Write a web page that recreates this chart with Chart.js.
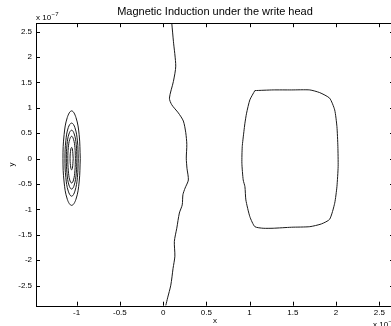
<!DOCTYPE html>
<html>
<head>
<meta charset="utf-8">
<script src="https://cdn.jsdelivr.net/npm/chart.js@4"></script>
<style>
  html, body { margin: 0; padding: 0; background: #fff; overflow: hidden; }
</style>
</head>
<body>
<canvas id="myChart" width="396" height="326"></canvas>
<script>
// values in units of 1e-7
var xTicks = [-1, -0.5, 0, 0.5, 1, 1.5, 2, 2.5];
var yTicks = [-2.5, -2, -1.5, -1, -0.5, 0, 0.5, 1, 1.5, 2, 2.5];

var middleLine = [
    [0.100, 2.67], [0.119, 2.31], [0.146, 1.82], [0.119, 1.52], [0.073, 1.19],
    [0.100, 1.06], [0.176, 0.90], [0.234, 0.74], [0.262, 0.51], [0.274, 0.28],
    [0.268, 0.01], [0.276, -0.19], [0.292, -0.42], [0.254, -0.58], [0.229, -0.71],
    [0.221, -0.91], [0.188, -1.07], [0.158, -1.37], [0.130, -1.63], [0.136, -1.92],
    [0.115, -2.16], [0.089, -2.49], [0.052, -2.74], [0.031, -2.89]
];

var rightLoop = [
    [1.061, 1.339], [1.272, 1.352], [1.484, 1.352], [1.696, 1.352], [1.811, 1.299],
    [1.926, 1.189], [1.984, 0.959], [2.010, 0.630], [2.021, 0.236], [2.024, -0.157],
    [2.010, -0.551], [1.984, -0.878], [1.926, -1.193], [1.830, -1.285], [1.696, -1.339],
    [1.484, -1.350], [1.272, -1.370], [1.157, -1.370], [1.061, -1.339], [1.003, -1.142],
    [0.957, -0.813], [0.946, -0.551], [0.926, -0.419], [0.911, -0.091], [0.915, 0.236],
    [0.934, 0.531], [0.946, 0.697], [0.965, 0.894], [1.003, 1.156], [1.061, 1.339]
];

var ring1 = [
    [-0.958, 0], [-0.971, 0.47], [-1.008, 0.81], [-1.058, 0.94], [-1.108, 0.81],
    [-1.145, 0.47], [-1.158, 0], [-1.145, -0.46], [-1.108, -0.80], [-1.058, -0.92],
    [-1.008, -0.80], [-0.971, -0.46], [-0.958, 0]
];
var ring2 = [
    [-0.981, 0], [-0.991, 0.35], [-1.020, 0.61], [-1.058, 0.70], [-1.097, 0.61],
    [-1.125, 0.35], [-1.135, 0], [-1.125, -0.37], [-1.097, -0.64], [-1.058, -0.74],
    [-1.020, -0.64], [-0.991, -0.37], [-0.981, 0]
];
var ring3 = [
    [-0.997, 0], [-1.005, 0.28], [-1.028, 0.485], [-1.058, 0.56], [-1.089, 0.485],
    [-1.111, 0.28], [-1.119, 0], [-1.111, -0.30], [-1.089, -0.52], [-1.058, -0.60],
    [-1.028, -0.52], [-1.005, -0.30], [-0.997, 0]
];
var ring4 = [
    [-1.014, 0], [-1.020, 0.22], [-1.036, 0.38], [-1.058, 0.44], [-1.080, 0.38],
    [-1.096, 0.22], [-1.102, 0], [-1.096, -0.24], [-1.080, -0.42], [-1.058, -0.48],
    [-1.036, -0.42], [-1.020, -0.24], [-1.014, 0]
];
var ring5 = [
    [-1.040, 0], [-1.049, 0.19], [-1.058, 0.22], [-1.067, 0.19], [-1.076, 0],
    [-1.067, -0.19], [-1.058, -0.22], [-1.049, -0.19], [-1.040, 0]
];

var fontFamily = '"Liberation Sans", Arial, Helvetica, sans-serif';

function toPts(arr) {
    return arr.map(function (p) { return {x: p[0], y: p[1]}; });
}

function contour(arr, tension) {
    return {
        data: toPts(arr),
        showLine: true,
        borderColor: '#1a1a1a',
        borderWidth: 1,
        pointRadius: 0,
        tension: tension
    };
}

// matlab style box, inward ticks and the x 10^-7 exponents
var axesBox = {
    id: 'axesBox',
    afterDraw: function (chart) {
        var c = chart.ctx, a = chart.chartArea;
        var sx = chart.scales.x, sy = chart.scales.y;
        c.save();
        c.strokeStyle = '#000';
        c.lineWidth = 1;
        c.strokeRect(Math.round(a.left) + 0.5, Math.round(a.top) + 0.5,
            Math.round(a.right - a.left), Math.round(a.bottom - a.top));
        c.beginPath();
        xTicks.forEach(function (v) {
            var px = Math.round(sx.getPixelForValue(v)) + 0.5;
            c.moveTo(px, a.bottom); c.lineTo(px, a.bottom - 4);
            c.moveTo(px, a.top); c.lineTo(px, a.top + 4);
        });
        yTicks.forEach(function (v) {
            var py = Math.round(sy.getPixelForValue(v)) + 0.5;
            c.moveTo(a.left, py); c.lineTo(a.left + 4, py);
            c.moveTo(a.right, py); c.lineTo(a.right - 4, py);
        });
        c.stroke();

        c.fillStyle = '#000';
        c.textBaseline = 'alphabetic';
        c.font = '8px ' + fontFamily;
        c.fillText('x 10', 36, 20);
        var w = c.measureText('x 10').width;
        c.font = '6px ' + fontFamily;
        c.fillText('\u22127', 36 + w + 0.5, 16);

        c.font = '8px ' + fontFamily;
        c.fillText('x 10', 373, 327);
        w = c.measureText('x 10').width;
        c.font = '6px ' + fontFamily;
        c.fillText('\u22127', 373 + w + 0.5, 323);
        c.restore();
    }
};

var ctx = document.getElementById('myChart').getContext('2d');
var myChart = new Chart(ctx, {
    type: 'scatter',
    data: {
        datasets: [
            contour(middleLine, 0.25),
            contour(rightLoop, 0.2),
            contour(ring1, 0.4),
            contour(ring2, 0.4),
            contour(ring3, 0.4),
            contour(ring4, 0.4),
            contour(ring5, 0.4)
        ]
    },
    options: {
        responsive: false,
        animation: false,
        layout: {
            padding: {left: 0, right: 2, top: 0, bottom: 0}
        },
        plugins: {
            legend: {display: false},
            tooltip: {enabled: false},
            title: {
                display: true,
                text: 'Magnetic Induction under the write head',
                fullSize: false,
                color: '#000',
                font: {family: fontFamily, size: 11, weight: 'normal'},
                padding: {top: 5, bottom: 5}
            }
        },
        scales: {
            x: {
                type: 'linear',
                min: -1.47,
                max: 2.67,
                afterBuildTicks: function (s) {
                    s.ticks = xTicks.map(function (v) { return {value: v}; });
                },
                afterFit: function (s) { s.height = 20.3; },
                grid: {display: false, drawTicks: false},
                border: {display: false},
                ticks: {
                    color: '#000',
                    font: {family: fontFamily, size: 8},
                    padding: 2,
                    maxRotation: 0,
                    autoSkip: false,
                    callback: function (v) { return String(v); }
                },
                title: {
                    display: true,
                    text: 'x',
                    color: '#000',
                    font: {family: fontFamily, size: 8},
                    padding: {top: 0, bottom: 0}
                }
            },
            y: {
                type: 'linear',
                min: -2.894,
                max: 2.665,
                afterBuildTicks: function (s) {
                    s.ticks = yTicks.map(function (v) { return {value: v}; });
                },
                afterFit: function (s) { s.width = 36; },
                grid: {display: false, drawTicks: false},
                border: {display: false},
                ticks: {
                    color: '#000',
                    font: {family: fontFamily, size: 8},
                    padding: 4,
                    autoSkip: false,
                    callback: function (v) { return String(v); }
                },
                title: {
                    display: true,
                    text: 'y',
                    color: '#000',
                    font: {family: fontFamily, size: 8},
                    padding: {top: 7, bottom: 0}
                }
            }
        }
    },
    plugins: [axesBox]
});
</script>
</body>
</html>
